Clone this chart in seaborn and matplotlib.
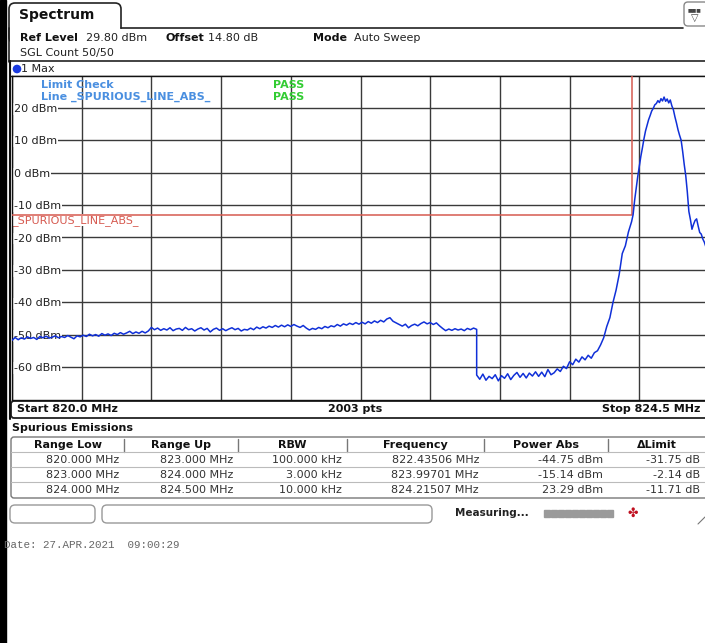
import numpy as np
import pandas as pd
import matplotlib.pyplot as plt
import matplotlib.patches as mpatches
import seaborn as sns

TRACE_COLOR = '#1030d8'
LIMIT_COLOR = '#d65a50'
GRID_COLOR = '#3a3a3a'

# sweep: 820.0 - 823.0 MHz (0.02 MHz steps)
seg_a_level = [
    -51.8, -50.9, -51.6, -51.0, -51.4, -50.7, -51.2, -50.9, -51.5, -50.6,
    -51.0, -50.5, -51.1, -50.8, -50.4, -51.0, -50.6, -50.9, -50.3, -50.8,
    -51.3, -50.4, -50.7, -50.2, -50.6, -49.9, -50.4, -50.0, -50.5, -49.7,
    -50.2, -49.8, -50.3, -49.6, -50.0, -49.4, -49.9, -49.5, -49.0, -49.7,
    -49.2, -49.6, -49.0, -49.5, -48.9, -47.8, -48.5, -48.0, -48.7, -48.2,
    -48.6, -47.9, -48.8, -48.3, -48.1, -48.7, -47.8, -48.5, -48.2, -48.9,
    -48.3, -47.9, -48.6, -48.1, -49.2, -48.4, -48.0, -48.7, -48.2, -48.8,
    -48.3, -47.9, -48.5, -48.1, -48.9, -48.4, -48.6, -48.0, -48.5, -47.7,
    -48.2, -47.6, -48.0, -47.4, -47.8, -47.2, -47.7, -47.1, -47.6, -47.0,
    -47.5, -46.9, -47.4, -47.8, -47.2, -48.0, -48.6, -48.1, -48.4, -47.8,
    -48.2, -47.5, -47.9, -47.3, -47.6, -46.9, -47.4, -46.7, -47.1, -46.5,
    -46.9, -46.3, -46.8, -46.2, -46.7, -46.0, -46.5, -45.8, -46.3, -45.6,
    -46.1, -45.2, -44.8, -45.9, -46.4, -46.9, -47.4, -46.8, -47.9, -47.2,
    -46.8, -47.3, -46.6, -46.1, -46.7, -46.3, -46.9, -46.4, -47.3, -48.1,
    -48.8, -48.3, -48.7, -48.2, -48.6, -48.3, -48.8, -48.1, -48.5, -48.0,
    -48.4,
]
# sweep: 823.0 - 823.98 MHz (0.02 MHz steps)
seg_b_level = [
    -62.5, -63.8, -62.2, -64.1, -62.9, -63.6, -62.4, -64.3, -62.7, -63.5,
    -62.1, -63.9, -62.6, -61.7, -63.2, -62.0, -63.4, -61.9, -62.8, -61.5,
    -62.9, -61.6, -63.0, -60.8, -62.4, -61.8, -60.6, -61.4, -59.8, -60.5,
    -58.4, -59.3, -57.6, -58.5, -56.9, -57.8, -56.4, -57.3, -55.6, -55.0,
    -53.2, -51.0, -47.5, -44.8, -40.1, -36.3, -31.5, -25.0, -22.6, -18.3,
]
# sweep: 824.0 - 824.5 MHz (0.01 MHz steps)
seg_c_level = [
    -15.2, -13.0, -8.5, -4.8, -1.2, 1.9, 5.0, 7.6, 10.4, 12.8,
    14.5, 16.3, 17.6, 19.0, 19.8, 20.9, 21.3, 22.2, 21.6, 22.8,
    22.1, 23.3, 22.0, 22.7, 21.5, 22.4, 20.6, 19.4, 17.2, 15.3,
    13.2, 11.5, 10.0, 6.5, 2.5, -1.0, -6.0, -12.0, -14.5, -17.5,
    -16.0, -14.8, -14.3, -16.5, -18.5, -19.0, -20.5, -21.5, -23.0, -23.8,
    -25.3,
]
seg_a_freq = np.round(np.linspace(820.0, 823.0, len(seg_a_level)), 3)
seg_b_freq = np.round(np.linspace(823.0, 823.98, len(seg_b_level)), 3)
seg_c_freq = np.round(np.linspace(824.0, 824.5, len(seg_c_level)), 3)

limit_freq = [820.0, 824.0, 824.0, 824.5]
limit_level = [-13.0, -13.0, 35.0, 35.0]

y_tick_levels = [20, 10, 0, -10, -20, -30, -40, -50, -60]

table_header = ['Range Low', 'Range Up', 'RBW', 'Frequency', 'Power Abs', '\u0394Limit']
range_low = ['820.000 MHz', '823.000 MHz', '824.000 MHz']
range_up = ['823.000 MHz', '824.000 MHz', '824.500 MHz']
rbw = ['100.000 kHz', '3.000 kHz', '10.000 kHz']
peak_freq = ['822.43506 MHz', '823.99701 MHz', '824.21507 MHz']
power_abs = ['-44.75 dBm', '-15.14 dBm', '23.29 dBm']
delta_limit = ['-31.75 dB', '-2.14 dB', '-11.71 dB']

df = pd.DataFrame({
    'freq': np.concatenate([seg_a_freq, seg_b_freq, seg_c_freq]),
    'level': seg_a_level + seg_b_level + seg_c_level,
})
df_limit = pd.DataFrame({'freq': limit_freq, 'level': limit_level})

sns.set_style('white')
plt.rcParams['font.family'] = ['DejaVu Sans']

W, H = 705, 643
fig = plt.figure(figsize=(W / 100, H / 100), dpi=100)

# background "screen" in pixel coordinates
bg = fig.add_axes([0, 0, 1, 1], zorder=0)
bg.set_xlim(0, W)
bg.set_ylim(H, 0)
bg.axis('off')

bg.add_patch(mpatches.Rectangle((0, 0), 6, H, color='black'))
# tab
bg.add_patch(mpatches.FancyBboxPatch((9, 3), 112, 40, boxstyle='round,pad=0,rounding_size=6',
                                     fc='white', ec='#222', lw=1.2))
bg.plot([121, 683], [28, 28], color='#222', lw=1.2)
bg.add_patch(mpatches.Rectangle((10, 29), 695, 31, color='white'))
bg.plot([9, 9], [28, 62], color='#222', lw=1.2)
bg.add_patch(mpatches.FancyBboxPatch((684, 2), 24, 24, boxstyle='round,pad=0,rounding_size=4',
                                     fc='white', ec='#888', lw=1))
bg.text(695, 10, '\u25a0\u25a0\u25a0', fontsize=3.5, color='#444', ha='center', va='center')
bg.text(695, 18, '\u25bd', fontsize=7, color='#444', ha='center', va='center')
bg.text(19, 15, 'Spectrum', fontsize=10, fontweight='bold', va='center', color='#111')

bg.text(20, 38, 'Ref Level', fontsize=8, fontweight='bold', va='center', color='#111')
bg.text(86, 38, '29.80 dBm', fontsize=8, va='center', color='#222')
bg.text(165, 38, 'Offset', fontsize=8, fontweight='bold', va='center', color='#111')
bg.text(208, 38, '14.80 dB', fontsize=8, va='center', color='#222')
bg.text(313, 38, 'Mode', fontsize=8, fontweight='bold', va='center', color='#111')
bg.text(354, 38, 'Auto Sweep', fontsize=8, va='center', color='#222')
bg.text(20, 53, 'SGL Count 50/50', fontsize=8, va='center', color='#222')
bg.plot([9, 705], [61, 61], color='#222', lw=1.2)

# diagram frame
bg.plot([10, 10], [61, 419], color='#111', lw=1.5)
bg.plot([10, 705], [76, 76], color='#111', lw=1)
bg.add_patch(mpatches.Circle((17, 69), 3.6, color='#1a3adf'))
bg.text(21, 69, '1 Max', fontsize=8, va='center', color='#222')

# bottom info bar
bg.add_patch(mpatches.FancyBboxPatch((11, 401), 700, 17, boxstyle='round,pad=0,rounding_size=3',
                                     fc='white', ec='#222', lw=1.3))
bg.text(17, 409.5, 'Start 820.0 MHz', fontsize=8, fontweight='bold', va='center', color='#111')
bg.text(355, 409.5, '2003 pts', fontsize=8, fontweight='bold', va='center', ha='center', color='#111')
bg.text(700, 409.5, 'Stop 824.5 MHz', fontsize=8, fontweight='bold', va='center', ha='right', color='#111')

# spurious emissions table
bg.text(12, 428, 'Spurious Emissions', fontsize=8, fontweight='bold', va='center', color='#111')
bg.add_patch(mpatches.FancyBboxPatch((11, 437), 700, 61, boxstyle='round,pad=0,rounding_size=3',
                                     fc='white', ec='#777', lw=1))
col_edges = [11, 124, 238, 347, 484, 608, 711]
for x in col_edges[1:-1]:
    bg.plot([x, x], [439, 452], color='#777', lw=1)
for y in [452, 467, 482]:
    bg.plot([11, 705], [y, y], color='#bbb', lw=0.8)
table_cols = [range_low, range_up, rbw, peak_freq, power_abs, delta_limit]
for i, (name, col) in enumerate(zip(table_header, table_cols)):
    left, right = col_edges[i], min(col_edges[i + 1], 705)
    bg.text((left + right) / 2, 445, name, fontsize=8, fontweight='bold', ha='center', va='center',
            color='#111')
    for j, val in enumerate(col):
        bg.text(right - 5, 460 + 15 * j, val, fontsize=8, ha='right', va='center', color='#333')

# status bar
bg.add_patch(mpatches.FancyBboxPatch((10, 505), 85, 18, boxstyle='round,pad=0,rounding_size=5',
                                     fc='white', ec='#999', lw=1))
bg.add_patch(mpatches.FancyBboxPatch((102, 505), 330, 18, boxstyle='round,pad=0,rounding_size=5',
                                     fc='white', ec='#999', lw=1))
bg.text(455, 513, 'Measuring...', fontsize=7.5, fontweight='bold', va='center', color='#222')
for k in range(10):
    bg.add_patch(mpatches.Rectangle((544 + 7 * k, 510), 6, 7, color='#9a9a9a'))
bg.text(633, 513, '\u2724', fontsize=9, color='#c01020', ha='center', va='center', fontweight='bold')
bg.plot([698, 705], [524, 517], color='#777', lw=0.8)

bg.text(4, 545, 'Date: 27.APR.2021  09:00:29', fontsize=7.8, family='Liberation Mono',
        va='center', color='#666')

# spectrum diagram
ax = fig.add_axes([12 / W, 1 - 400 / H, 697 / W, 324 / H], zorder=2)
ax.set_facecolor('white')
sns.lineplot(data=df_limit, x='freq', y='level', ax=ax, color=LIMIT_COLOR, lw=1.1,
             estimator=None, sort=False, zorder=3)
sns.lineplot(data=df, x='freq', y='level', ax=ax, color=TRACE_COLOR, lw=1.1,
             estimator=None, sort=False, zorder=4)
ax.set_xlim(820.0, 824.5)
ax.set_ylim(-70.2, 29.8)
ax.set_xticks(np.linspace(820.0, 824.5, 11))
ax.set_yticks(y_tick_levels)
ax.grid(True, color=GRID_COLOR, lw=1)
ax.tick_params(length=0, labelbottom=False, labelleft=False)
ax.set_xlabel('')
ax.set_ylabel('')
for s in ax.spines.values():
    s.set_color('#111')
    s.set_linewidth(1)

for lev in y_tick_levels:
    ax.text(0.003, (lev + 70.2) / 100 - 0.004, f'{lev} dBm', transform=ax.transAxes, fontsize=8,
            va='center', ha='left', color='#222', zorder=2.5,
            bbox=dict(fc='white', ec='none', pad=0.6))
ax.text(0.0, -13.0, '_SPURIOUS_LINE_ABS_', transform=ax.get_yaxis_transform(), fontsize=8,
        va='top', ha='left', color=LIMIT_COLOR, zorder=2.5,
        bbox=dict(fc='white', ec='none', pad=0.6))
ax.text(0.042, 0.973, 'Limit Check', transform=ax.transAxes, fontsize=8, fontweight='bold',
        va='center', color='#4a8fe0', zorder=5)
ax.text(0.042, 0.935, 'Line _SPURIOUS_LINE_ABS_', transform=ax.transAxes, fontsize=8,
        fontweight='bold', va='center', color='#4a8fe0', zorder=5)
ax.text(0.375, 0.973, 'PASS', transform=ax.transAxes, fontsize=8, fontweight='bold',
        va='center', color='#33cc33', zorder=5)
ax.text(0.375, 0.935, 'PASS', transform=ax.transAxes, fontsize=8, fontweight='bold',
        va='center', color='#33cc33', zorder=5)

fig.savefig('out.png', dpi=100)
